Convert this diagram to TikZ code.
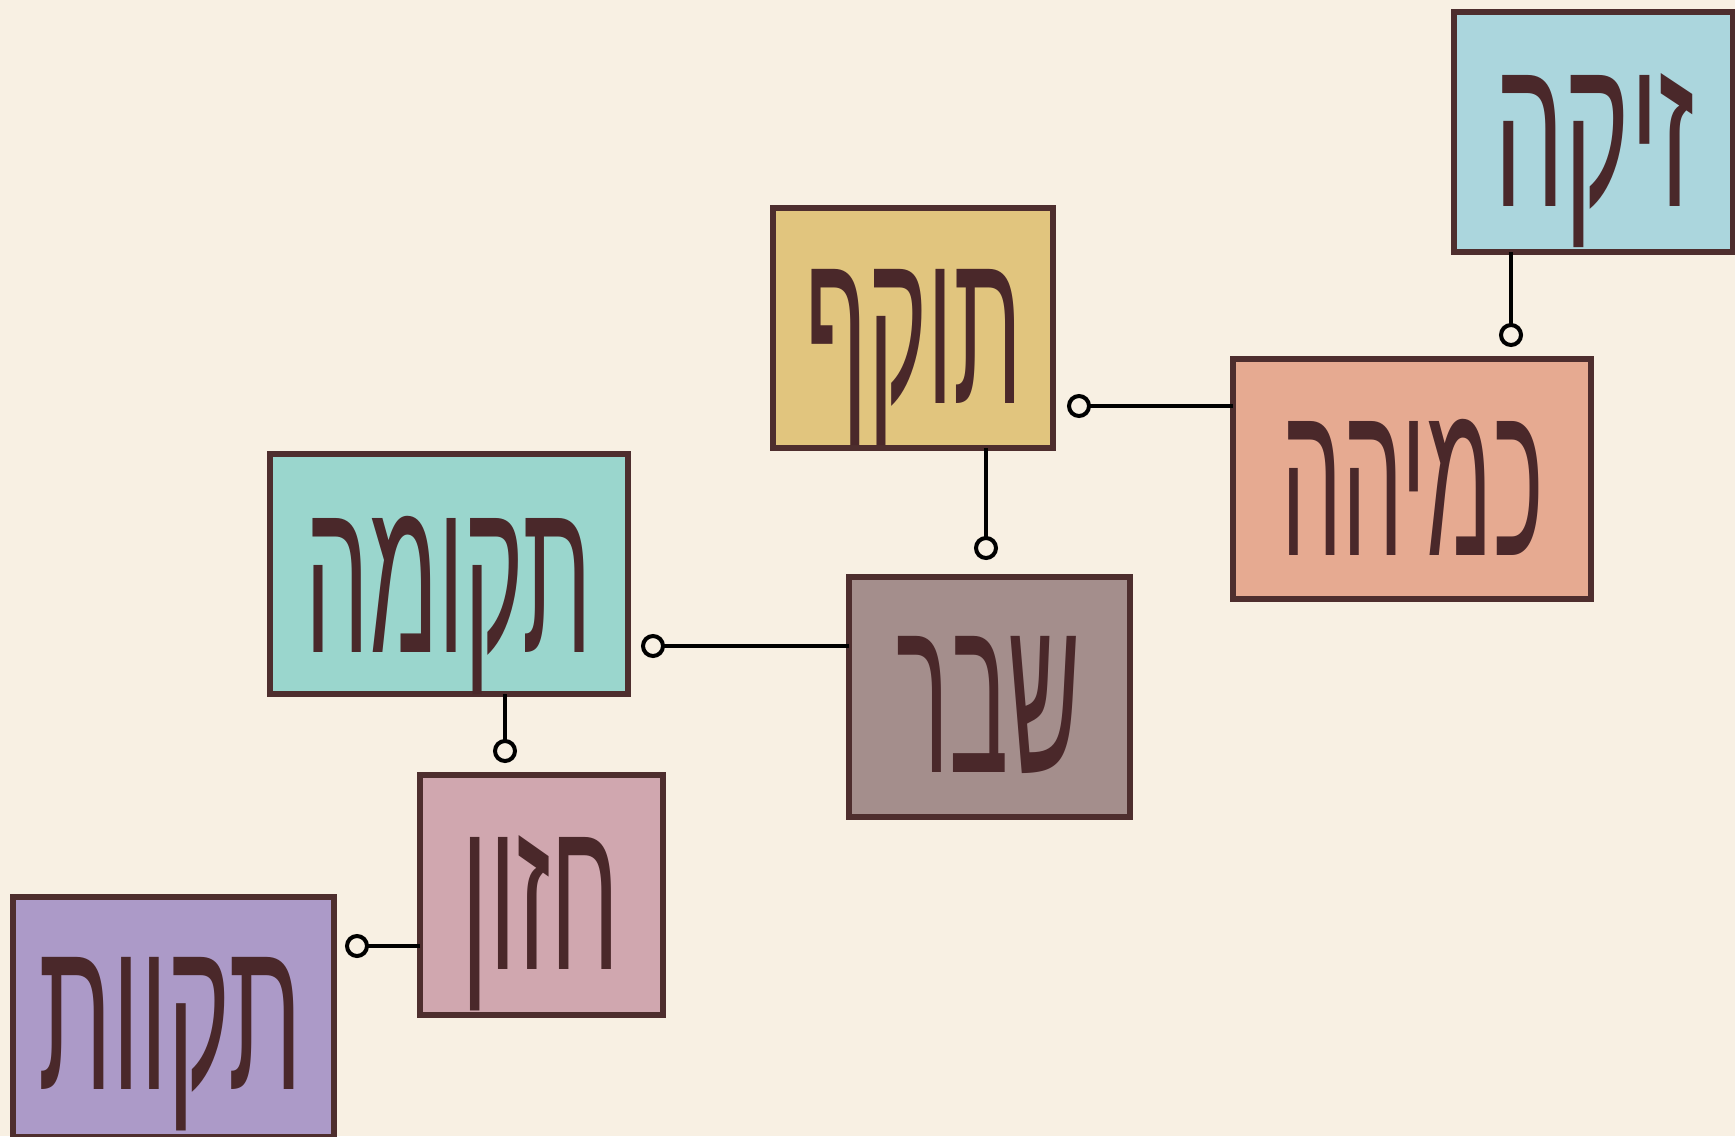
\documentclass[tikz,border=0pt]{standalone}
\usepackage{fontspec}
\usetikzlibrary{arrows.meta}
\TeXXeTstate=1
\newfontfamily\hebfont[Script=Hebrew]{Liberation Sans}
\definecolor{bgc}{HTML}{F8F0E3}
\definecolor{edgec}{HTML}{4E2E2E}
\definecolor{txtc}{HTML}{4A282A}
\definecolor{czikah}{HTML}{ABD6DD}
\definecolor{ckmiha}{HTML}{E6AA91}
\definecolor{ctokef}{HTML}{E1C57E}
\definecolor{cshever}{HTML}{A48E8C}
\definecolor{ctkuma}{HTML}{9AD6CD}
\definecolor{chazon}{HTML}{D0A7AF}
\definecolor{ctikvot}{HTML}{AC9AC8}
\newcommand{\hebw}[3]{\resizebox{#1pt}{#2pt}{\hebfont\beginR #3\endR}}
\tikzset{
  box/.style={draw=edgec, line width=6pt, minimum height=240pt, inner sep=0pt, outer sep=0pt},
  lbl/.style={anchor=base, inner sep=0pt, text=txtc},
  conn/.style={draw=black, line width=4pt, -{Circle[open,length=24pt,line width=4pt]}}
}
\newcommand{\cliplabel}[2]{\begin{scope}\clip ([shift={(3pt,-3pt)}]#1.south west) rectangle ([shift={(-3pt,3pt)}]#1.north east); #2 \end{scope}}
\begin{document}
\begin{tikzpicture}[x=1pt,y=-1pt]
\fill[bgc] (0,0) rectangle (1735,1136);
\useasboundingbox (0,0) rectangle (1735,1136);
% boxes
\node[box, fill=czikah, minimum width=279pt] (zikah) at (1593.5,132) {};
\node[box, fill=ckmiha, minimum width=358pt] (kmiha) at (1412,479) {};
\node[box, fill=ctokef, minimum width=280pt] (tokef) at (913,328) {};
\node[box, fill=cshever, minimum width=281pt] (shever) at (989.5,697) {};
\node[box, fill=ctkuma, minimum width=358pt] (tkuma) at (449,574) {};
\node[box, fill=chazon, minimum width=243pt] (hazon) at (541.5,894.5) {};
\node[box, fill=ctikvot, minimum width=321pt] (tikvot) at (173.5,1017) {};
% labels
\cliplabel{zikah}{\node[lbl] (zikaht) at (1594.5,206) {\hebw{200}{133}{זיקה}};}
\cliplabel{kmiha}{\node[lbl] (kmihat) at (1412.5,555) {\hebw{262}{136}{כמיהה}};}
\cliplabel{tokef}{\node[lbl] (tokeft) at (914,403) {\hebw{216}{134}{תוקף}};}
\cliplabel{shever}{\node[lbl] (shevert) at (989,772) {\hebw{184}{136}{שבר}};}
\cliplabel{tkuma}{\node[lbl] (tkumat) at (448.5,652) {\hebw{286}{136}{תקומה}};}
\cliplabel{hazon}{\node[lbl] (hazont) at (541,969) {\hebw{158}{134}{חזון}};}
\cliplabel{tikvot}{\node[lbl] (tikvott) at (170.5,1089) {\hebw{264}{132}{תקוות}};}
% connector ends
\coordinate (e1) at (1511,347);
\coordinate (e2) at (1067,406);
\coordinate (e3) at (986,560);
\coordinate (e4) at (641,646);
\coordinate (e5) at (505,763);
\coordinate (e6) at (345,946);
\draw[conn] (zikah.south -| e1) -- (e1);
\draw[conn] (kmiha.west |- e2) -- (e2);
\draw[conn] (tokef.south -| e3) -- (e3);
\draw[conn] (shever.west |- e4) -- (e4);
\draw[conn] (tkuma.south -| e5) -- (e5);
\draw[conn] (hazon.west |- e6) -- (e6);
\end{tikzpicture}
\end{document}
